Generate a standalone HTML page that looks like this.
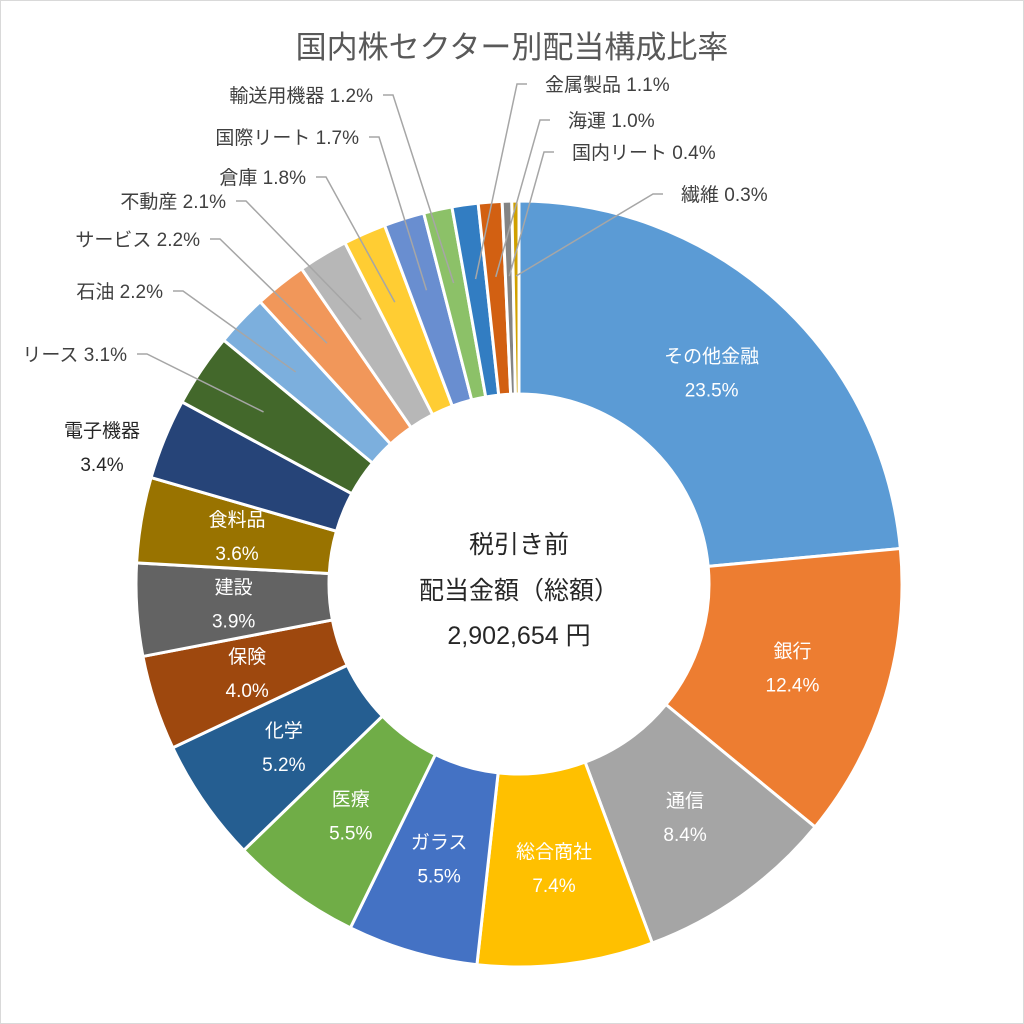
<!DOCTYPE html>
<html><head><meta charset="utf-8"><style>
html,body{margin:0;padding:0;background:#fff;}
svg{display:block;font-family:"Liberation Sans","Noto Sans CJK JP",sans-serif;}
</style></head><body>
<svg id="chart" width="1024" height="1024" viewBox="0 0 1024 1024" xmlns="http://www.w3.org/2000/svg">
<rect x="0.5" y="0.5" width="1023" height="1023" fill="#fff" stroke="#d9d9d9"/>
<text x="512" y="58" text-anchor="middle" font-size="31" fill="#595959">国内株セクター別配当構成比率</text>
<g id="slices"></g>
<g id="labels"></g>
<g font-size="25" fill="#262626" text-anchor="middle">
<text x="519" y="553">税引き前</text>
<text x="519" y="599">配当金額（総額）</text>
<text x="519" y="644">2,902,654 円</text>
</g>
</svg>
<script>
const categories=["その他金融","銀行","通信","総合商社","ガラス","医療","化学","保険","建設","食料品","電子機器","リース","石油","サービス","不動産","倉庫","国際リート","輸送用機器","金属製品","海運","国内リート","繊維"];
const values=[23.5,12.4,8.4,7.4,5.5,5.5,5.2,4.0,3.9,3.6,3.4,3.1,2.2,2.2,2.1,1.8,1.7,1.2,1.1,1.0,0.4,0.3];
const valueLabels=["23.5%","12.4%","8.4%","7.4%","5.5%","5.5%","5.2%","4.0%","3.9%","3.6%","3.4%","3.1%","2.2%","2.2%","2.1%","1.8%","1.7%","1.2%","1.1%","1.0%","0.4%","0.3%"];
const colors=["#5B9BD5","#ED7D31","#A5A5A5","#FFC000","#4472C4","#70AD47","#255E91","#9E480E","#636363","#997300","#264478","#43682B","#7CAFDD","#F1975A","#B7B7B7","#FFCD33","#698ED0","#8CC168","#327DC2","#D26012","#848484","#D0A000"];
const cx=519,cy=584,R=383,r=190;
const NS="http://www.w3.org/2000/svg";
const total=values.reduce((a,b)=>a+b,0);
function pt(a,rad){return [cx+rad*Math.sin(a),cy-rad*Math.cos(a)];}
function angle(v){return v/total*2*Math.PI;}
const gS=document.getElementById('slices'),gL=document.getElementById('labels');
// outside label anchors (layout only): [x,y,anchor,elbowX]
const outside={11:[127,360,"end",137],12:[163,297,"end",173],13:[200,245,"end",210],14:[226,207,"end",236],15:[306,183,"end",316],16:[359,143,"end",369],17:[373,101,"end",383],18:[545,90,"start",527],19:[568,126,"start",550],20:[572,158,"start",554],21:[681,200,"start",663]};
let acc=0;
values.forEach((v,i)=>{
  const a0=angle(acc),a1=angle(acc+v);acc+=v;
  const [x0,y0]=pt(a0,R),[x1,y1]=pt(a1,R),[x2,y2]=pt(a1,r),[x3,y3]=pt(a0,r);
  const large=(a1-a0)>Math.PI?1:0;
  const p=document.createElementNS(NS,'path');
  p.setAttribute('d',`M${x0},${y0}A${R},${R} 0 ${large} 1 ${x1},${y1}L${x2},${y2}A${r},${r} 0 ${large} 0 ${x3},${y3}Z`);
  p.setAttribute('fill',colors[i]);p.setAttribute('stroke','#fff');p.setAttribute('stroke-width','3');
  
  
  gS.appendChild(p);
  const am=(a0+a1)/2;
  if(i<10){
    const [mx,my]=pt(am,286);
    const t=document.createElementNS(NS,'text');
    t.setAttribute('x',mx);t.setAttribute('y',my-10);t.setAttribute('text-anchor','middle');
    t.setAttribute('font-size','19');t.setAttribute('fill','#fff');
    
    
    t.innerHTML=`<tspan x="${mx}">${categories[i]}</tspan><tspan x="${mx}" dy="34">${valueLabels[i]}</tspan>`;
    gL.appendChild(t);
  } else if(i===10){
    const t=document.createElementNS(NS,'text');
    t.setAttribute('x',102);t.setAttribute('y',437);t.setAttribute('text-anchor','middle');
    t.setAttribute('font-size','19');t.setAttribute('fill','#262626');
    
    
    t.innerHTML=`<tspan x="102">${categories[i]}</tspan><tspan x="102" dy="34">${valueLabels[i]}</tspan>`;
    gL.appendChild(t);
  } else {
    const o=outside[i];
    const [ex,ey]=pt(am,R-75);
    const l=document.createElementNS(NS,'polyline');
    l.setAttribute('points',`${o[3]},${o[1]-6} ${o[3]+(o[2]==="end"?10:-10)},${o[1]-6} ${ex},${ey}`);
    l.setAttribute('fill','none');l.setAttribute('stroke','#a6a6a6');l.setAttribute('stroke-width','1.5');
    
    
    gL.appendChild(l);
    const t=document.createElementNS(NS,'text');
    t.setAttribute('x',o[0]);t.setAttribute('y',o[1]+1);t.setAttribute('text-anchor',o[2]);
    t.setAttribute('font-size','19');t.setAttribute('fill','#404040');
    
    
    t.textContent=categories[i]+" "+valueLabels[i];
    gL.appendChild(t);
  }
});
</script>
</body></html>
